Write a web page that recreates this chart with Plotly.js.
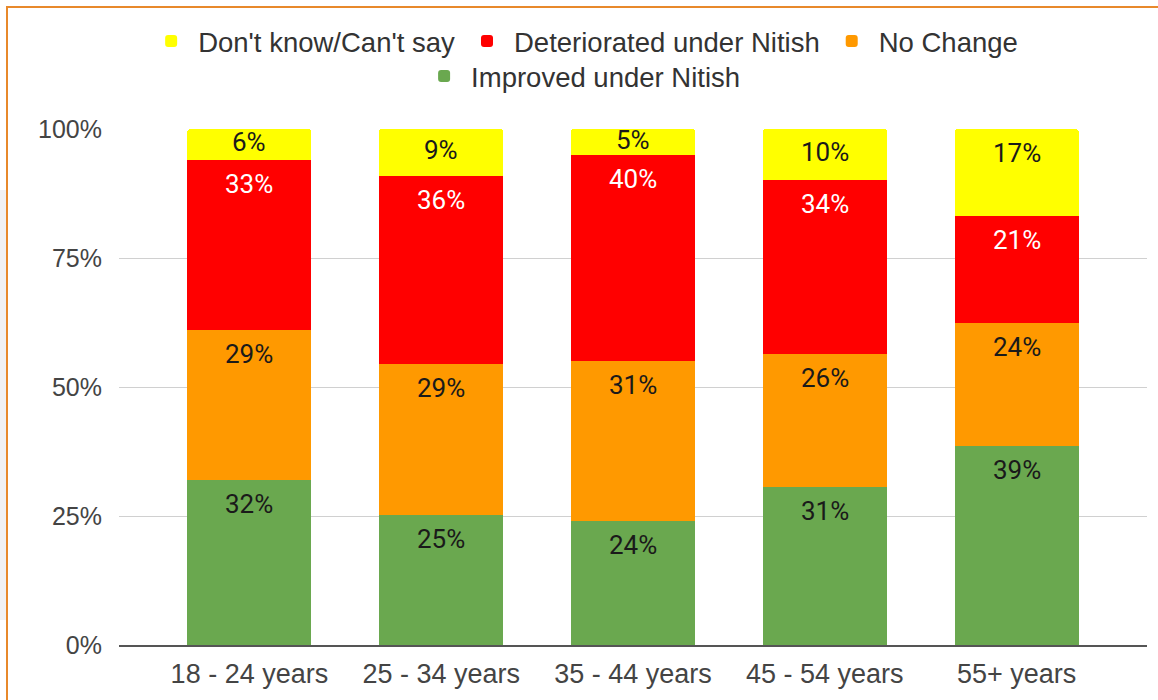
<!DOCTYPE html>
<html>
<head>
<meta charset="utf-8">
<script src="https://cdn.plot.ly/plotly-3.0.1.min.js"></script>
<style>
  html, body { margin: 0; padding: 0; background: #ffffff; }
  #wrap { position: relative; width: 1158px; height: 700px; overflow: hidden; background: #fff; }
  #chart { position: absolute; left: 0; top: 0; width: 1158px; height: 700px; }
  #frame { position: absolute; left: 6px; top: 6px; width: 1200px; height: 800px;
           border-top: 2px solid #E8892B; border-left: 2px solid #E8892B; pointer-events: none; }
  #patch { position: absolute; left: 0; top: 190px; width: 6px; height: 430px; background: #f1f1f3; }
</style>
</head>
<body>
<div id="wrap">
  <div id="chart"></div>
  <div id="patch"></div>
  <div id="frame"></div>
</div>
<script>
// ---- data ----
const categories   = ['18 - 24 years', '25 - 34 years', '35 - 44 years', '45 - 54 years', '55+ years'];
const improved     = [32, 25, 24, 31, 39];
const noChange     = [29, 29, 31, 26, 24];
const deteriorated = [33, 36, 40, 34, 21];
const dontKnow     = [6, 9, 5, 10, 17];
const seriesNames  = ['Improved under Nitish', 'No Change', 'Deteriorated under Nitish', "Don't know/Can't say"];
const yTickVals    = [0, 25, 50, 75, 100];
const yTickText    = ['0%', '25%', '50%', '75%', '100%'];

// ---- styles ----
const colors     = ['#6AA84F', '#FF9900', '#FF0000', '#FFFF00'];
const textColors = ['#1a1a1a', '#1a1a1a', '#ffffff', '#1a1a1a'];
const series     = [improved, noChange, deteriorated, dontKnow];
const legendOf   = ['legend2', 'legend', 'legend', 'legend'];

const traces = series.map((vals, i) => ({
  type: 'bar',
  name: seriesNames[i],
  x: categories,
  y: vals,
  marker: { color: colors[i], line: { width: 0 } },
  legend: legendOf[i],
  hoverinfo: 'name+y'
}));

// labels: placed near top of each normalized segment
const annotations = [];
categories.forEach((cat, c) => {
  const total = series.reduce((s, arr) => s + arr[c], 0);
  let cum = 0;
  series.forEach((arr, i) => {
    const h = arr[c] / total * 100;
    cum += h;
    const off = Math.min(4.7, h / 2 - 0.4);
    annotations.push({
      x: cat, y: cum - off, xref: 'x', yref: 'y',
      text: arr[c] + '%', showarrow: false,
      xanchor: 'center', yanchor: 'middle',
      font: { family: 'Roboto, Arial, sans-serif', size: 26, color: textColors[i] }
    });
  });
});

const axisFont = { family: '"Liberation Sans", Arial, sans-serif', size: 25, color: '#444444' };
const xFont = { family: '"Liberation Sans", Arial, sans-serif', size: 27, color: '#444444' };
const legendFont = { family: '"Liberation Sans", Arial, sans-serif', size: 27.5, color: '#333333' };

const layout = {
  width: 1158, height: 700,
  margin: { l: 119, r: 11, t: 129, b: 55, pad: 0 },
  paper_bgcolor: '#ffffff', plot_bgcolor: '#ffffff',
  barmode: 'stack', barnorm: 'percent', bargap: 0.353,
  barcornerradius: 3,
  showlegend: true,
  legend: {
    orientation: 'h', x: 0.452, xanchor: 'center', y: 1.1705, yanchor: 'middle',
    traceorder: 'reversed', itemwidth: 44,
    font: legendFont, bgcolor: 'rgba(0,0,0,0)'
  },
  legend2: {
    orientation: 'h', x: 0.450, xanchor: 'center', y: 1.1027, yanchor: 'middle',
    itemwidth: 44,
    font: legendFont, bgcolor: 'rgba(0,0,0,0)'
  },
  xaxis: {
    type: 'category', range: [-0.68, 4.68],
    tickfont: xFont, showgrid: false, zeroline: false,
    showline: true, linecolor: '#555555', linewidth: 2,
    ticks: '', ticklabelstandoff: 4, fixedrange: true
  },
  yaxis: {
    range: [0, 100], tickvals: yTickVals, ticktext: yTickText,
    tickfont: axisFont, showgrid: true, gridcolor: '#d0d0d0', gridwidth: 1,
    zeroline: false, showline: false, ticks: '', ticklabelstandoff: 16, fixedrange: true
  },
  annotations: annotations
};

Plotly.newPlot('chart', traces, layout, { displayModeBar: false, staticPlot: true });
</script>
</body>
</html>
